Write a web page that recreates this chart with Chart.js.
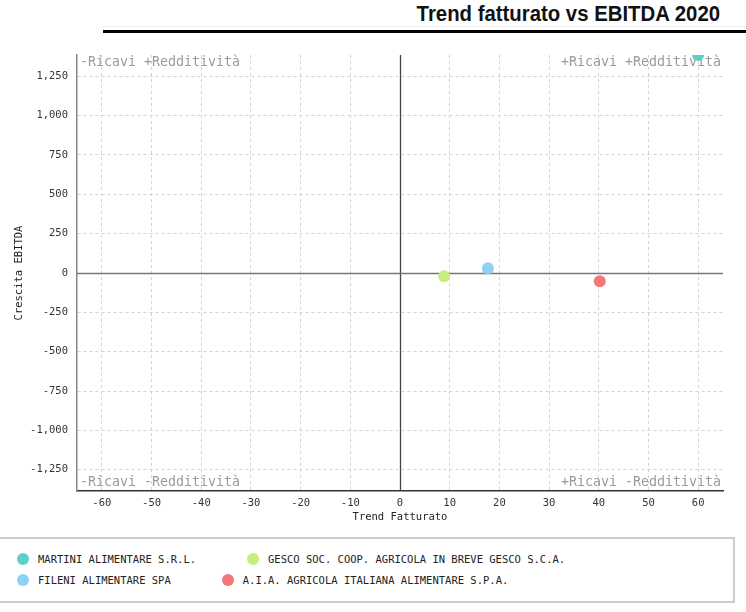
<!DOCTYPE html>
<html>
<head>
<meta charset="utf-8">
<script src="https://cdn.jsdelivr.net/npm/chart.js@4.4.0/dist/chart.umd.min.js"></script>
<style>
  html, body { margin: 0; padding: 0; background: #fff; width: 746px; height: 612px; overflow: hidden; position: relative; }
  #title { position: absolute; right: 26px; top: 1px; font: bold 22px "Liberation Sans", Arial, sans-serif; color: #111; white-space: nowrap; transform: scaleX(0.925); transform-origin: right center; }
  #rule { position: absolute; left: 103px; right: 0; top: 30px; height: 3px; background: #000; }
  #rule2 { position: absolute; left: 103px; right: 0; top: 26px; height: 1px; background: #f0f0f0; }
  #wrap { position: absolute; left: 0; top: 0; width: 746px; height: 530px; }
  #legend { position: absolute; left: -4px; top: 537px; width: 735px; height: 62px; border: 2px solid #ccc; box-sizing: content-box; }
  #legend ul { list-style: none; margin: 0; padding: 13px 0 0 19px; display: flex; flex-wrap: wrap; row-gap: 7px; }
  #legend li { display: flex; align-items: center; margin-right: 51px; font: 10.5px "DejaVu Sans Mono", monospace; color: #222; height: 14px; }
  #legend li span.dot { display: inline-block; width: 12px; height: 12px; border-radius: 50%; margin-right: 9px; }
</style>
</head>
<body>
<div id="title">Trend fatturato vs EBITDA 2020</div>
<div id="rule2"></div>
<div id="rule"></div>
<div id="wrap"><canvas id="c"></canvas></div>
<div id="legend"><ul id="legendList"></ul></div>
<script>
// ---- data ----
const companies = ["MARTINI ALIMENTARE S.R.L.", "GESCO SOC. COOP. AGRICOLA IN BREVE GESCO S.C.A.", "FILENI ALIMENTARE SPA", "A.I.A. AGRICOLA ITALIANA ALIMENTARE S.P.A."];
const trendFatturato = [60, 8.9, 17.7, 40.2];
const crescitaEbitda = [1385, -20, 30, -53];
const colors = ["#5ecfc9", "#c6ee7d", "#8fd1f5", "#f27777"];
const xLimits = [-65, 65];
const yLimits = [-1385, 1385];
const xStep = 10;
const yStep = 250;
const quadrantLabels = { tl: "-Ricavi +Redditività", tr: "+Ricavi +Redditività", bl: "-Ricavi -Redditività", br: "+Ricavi -Redditività" };
const xTitle = "Trend Fatturato";
const yTitle = "Crescita EBITDA";

const mono = "'DejaVu Sans Mono', monospace";

const datasets = companies.map((name, i) => ({
  label: name,
  data: [{ x: trendFatturato[i], y: crescitaEbitda[i] }],
  backgroundColor: colors[i],
  borderColor: colors[i],
  pointRadius: 6,
  pointHoverRadius: 6,
  borderWidth: 0
}));

const quadrantPlugin = {
  id: 'quadrants',
  beforeDatasetsDraw(chart) {
    const { ctx, chartArea: a, scales: { x, y } } = chart;
    ctx.save();
    ctx.strokeStyle = '#444';
    ctx.lineWidth = 1.3;
    const x0 = Math.round(x.getPixelForValue(0)) + 0.5;
    const y0 = Math.round(y.getPixelForValue(0)) + 0.5;
    ctx.beginPath();
    ctx.moveTo(x0, a.top); ctx.lineTo(x0, a.bottom);
    ctx.stroke();
    ctx.strokeStyle = '#777';
    ctx.beginPath();
    ctx.moveTo(a.left, y0); ctx.lineTo(a.right, y0);
    ctx.stroke();
    ctx.font = "13.3px " + mono;
    ctx.fillStyle = '#9a9a9a';
    ctx.textBaseline = 'middle';
    ctx.textAlign = 'left';
    ctx.fillText(quadrantLabels.tl, a.left + 3, a.top + 8);
    ctx.fillText(quadrantLabels.bl, a.left + 3, a.bottom - 8);
    ctx.textAlign = 'right';
    ctx.fillText(quadrantLabels.tr, a.right - 2, a.top + 8);
    ctx.fillText(quadrantLabels.br, a.right - 2, a.bottom - 8);
    ctx.restore();
  }
};

function stepTicks(step) {
  return function (scale) {
    const out = [];
    for (let v = Math.ceil(scale.min / step) * step; v <= scale.max + 1e-9; v += step) out.push({ value: v });
    scale.ticks = out;
  };
}
const fmt = v => Number(v).toLocaleString('en-US');

const chart = new Chart(document.getElementById('c'), {
  type: 'scatter',
  data: { datasets },
  options: {
    responsive: true,
    maintainAspectRatio: false,
    animation: false,
    layout: { padding: { top: 55, right: 23, left: 9, bottom: 2 } },
    plugins: {
      legend: { display: false },
      tooltip: { enabled: false },
      title: { display: false }
    },
    scales: {
      x: {
        type: 'linear',
        min: xLimits[0], max: xLimits[1],
        afterBuildTicks: stepTicks(xStep),
        afterFit(s) { s.height = 37; },
        ticks: { padding: 6, color: '#333', font: { family: mono, size: 10.5 }, callback: fmt, autoSkip: false, maxRotation: 0 },
        grid: { color: '#d4d4d4', drawTicks: false, tickLength: 0, lineWidth: 1 },
        border: { color: '#333', width: 1.5, dash: [3, 3] },
        title: { display: true, text: xTitle, color: '#222', font: { family: mono, size: 10.5 }, padding: { top: 4, bottom: 4 } }
      },
      y: {
        type: 'linear',
        min: yLimits[0], max: yLimits[1],
        afterBuildTicks: stepTicks(yStep),
        afterFit(s) { s.width = 68; },
        ticks: { padding: 9, color: '#333', font: { family: mono, size: 10.5 }, callback: fmt, autoSkip: false },
        grid: { color: '#d4d4d4', drawTicks: false, tickLength: 0, lineWidth: 1 },
        border: { color: '#888', width: 1.5, dash: [3, 3] },
        title: { display: true, text: yTitle, color: '#222', font: { family: mono, size: 10.5 }, padding: { top: 4, bottom: 4 } }
      }
    }
  },
  plugins: [quadrantPlugin]
});

// HTML legend built from the chart's datasets
const ul = document.getElementById('legendList');
chart.data.datasets.forEach(ds => {
  const li = document.createElement('li');
  const dot = document.createElement('span');
  dot.className = 'dot';
  dot.style.background = ds.backgroundColor;
  li.appendChild(dot);
  li.appendChild(document.createTextNode(ds.label));
  ul.appendChild(li);
});
</script>
</body>
</html>
